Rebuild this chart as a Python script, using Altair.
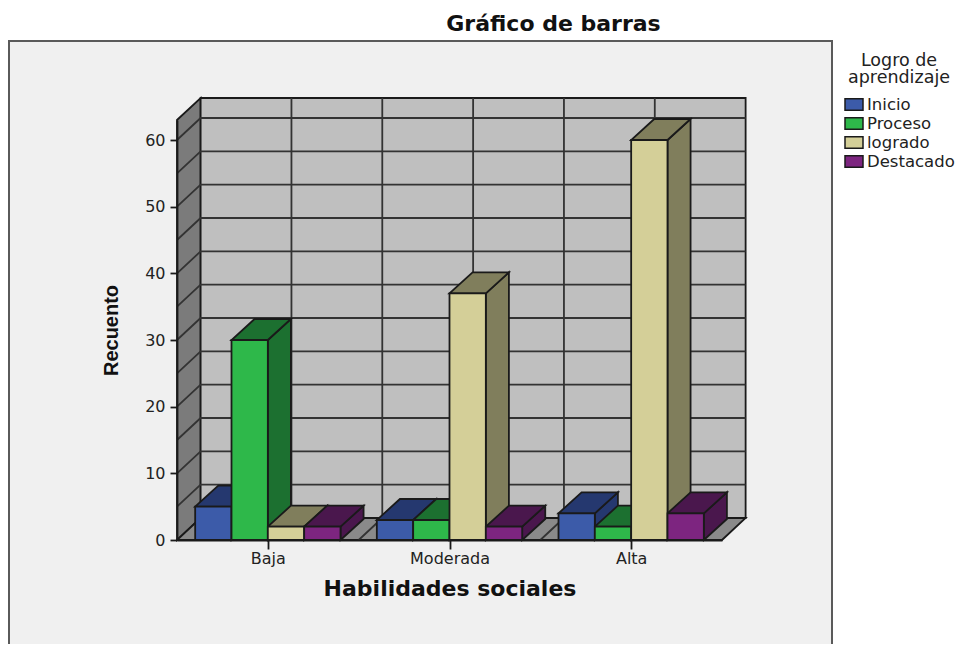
import altair as alt
import pandas as pd

categories = ["Baja", "Moderada", "Alta"]
series = ["Inicio", "Proceso", "logrado", "Destacado"]
values = {
    "Inicio": [5, 3, 4],
    "Proceso": [30, 3, 2],
    "logrado": [2, 37, 60],
    "Destacado": [2, 2, 4],
}
front_colors = ["#3c5ba9", "#2eb84a", "#d4cf98", "#7d2580"]
shade_side = ["#25386f", "#1c7030", "#807e5c", "#4a174d"]
grid_values = list(range(5, 65, 5))
floor_ticks = [0, 0.5, 1, 1.5, 2]

BAR_W = 0.2
BAR_DX, BAR_DY = 0.127, 3.15
WALL_DX, WALL_DY = 0.13, 3.3
XMIN, XMAX, YMAX = -0.5, 2.5, 63

INK = "#1a1a1a"
LW = 1.8
FONT = "DejaVu Sans"

sx = alt.Scale(domain=[XMIN, XMAX], nice=False, zero=False)
sy = alt.Scale(domain=[0, YMAX], nice=False, zero=False)

label_expr = "datum.value == 0 ? 'Baja' : datum.value == 1 ? 'Moderada' : 'Alta'"
x_axis = alt.Axis(
    values=[0, 1, 2], labelExpr=label_expr, title="Habilidades sociales",
    grid=False, domainColor=INK, domainWidth=LW, tickColor=INK, tickWidth=LW,
    tickSize=9, labelPadding=1, labelFontSize=16, labelFont=FONT, labelColor="#222222",
    titleFont=FONT, titleFontSize=22, titleFontWeight="bold", titleColor="#111111",
    titlePadding=12, zindex=1)
y_axis = alt.Axis(
    values=[0, 10, 20, 30, 40, 50, 60], title="Recuento",
    grid=False, domainColor=INK, domainWidth=LW, tickColor=INK, tickWidth=LW,
    tickSize=7, labelPadding=5, labelFontSize=16, labelFont=FONT, labelColor="#222222",
    titleFont="Liberation Sans", titleFontSize=20, titleFontWeight="bold",
    titleColor="#111111", titlePadding=23, zindex=1)

X = lambda f: alt.X(f, type="quantitative", scale=sx, axis=x_axis)
Y = lambda f: alt.Y(f, type="quantitative", scale=sy, stack=None, axis=y_axis)

# ---- faces of the bars
front, side, top = [], [], []
for ci, cat in enumerate(categories):
    for si, s in enumerate(series):
        v = values[s][ci]
        x0 = ci + (si - 2) * BAR_W
        x1 = x0 + BAR_W
        key = f"{cat}-{s}"
        front.append(dict(id=key, serie=s, x0=x0, x1=x1, v=v))
        side += [
            dict(id=key, shade=shade_side[si], x=x1, y0=0, y1=v),
            dict(id=key, shade=shade_side[si], x=x1 + BAR_DX, y0=BAR_DY, y1=v + BAR_DY),
        ]
        top += [
            dict(id=key, shade=shade_side[si], y=v, x0=x0, x1=x1),
            dict(id=key, shade=shade_side[si], y=v + BAR_DY, x0=x0 + BAR_DX, x1=x1 + BAR_DX),
        ]
front, side, top = pd.DataFrame(front), pd.DataFrame(side), pd.DataFrame(top)

# ---- walls
left_wall = pd.DataFrame([
    dict(x=XMIN, y0=0, y1=YMAX),
    dict(x=XMIN + WALL_DX, y0=WALL_DY, y1=YMAX + WALL_DY),
])
back_wall = pd.DataFrame([dict(x0=XMIN + WALL_DX, x1=XMAX + WALL_DX, y0=WALL_DY, y1=YMAX + WALL_DY)])
floor = pd.DataFrame([
    dict(y=0, x0=XMIN, x1=XMAX),
    dict(y=WALL_DY, x0=XMIN + WALL_DX, x1=XMAX + WALL_DX),
])

# ---- grid lines
grid = []
for g in grid_values:
    grid += [
        dict(id=f"h{g}", o=0, x=XMIN, y=g),
        dict(id=f"h{g}", o=1, x=XMIN + WALL_DX, y=g + WALL_DY),
        dict(id=f"h{g}", o=2, x=XMAX + WALL_DX, y=g + WALL_DY),
    ]
for t in floor_ticks:
    grid += [
        dict(id=f"v{t}", o=0, x=t, y=0),
        dict(id=f"v{t}", o=1, x=t + WALL_DX, y=WALL_DY),
        dict(id=f"v{t}", o=2, x=t + WALL_DX, y=YMAX + WALL_DY),
    ]
grid = pd.DataFrame(grid)

stroke = dict(stroke=INK, strokeWidth=LW)

panel = alt.Chart(pd.DataFrame({"a": [0]})).mark_rect(
    fill="#f0f0f0", stroke="#5a5a5a", strokeWidth=2
).encode(x=alt.value(-168), x2=alt.value(655), y=alt.value(-79), y2=alt.value(535))

wall_l = alt.Chart(left_wall).mark_area(color="#7b7b7b", **stroke).encode(
    x=X("x"), y=Y("y0"), y2="y1")
wall_b = alt.Chart(back_wall).mark_rect(color="#bfbfbf", **stroke).encode(
    x=X("x0"), x2="x1", y=Y("y0"), y2="y1")
wall_f = alt.Chart(floor).mark_area(color="#8a8a8a", orient="horizontal", **stroke).encode(
    y=Y("y"), x=X("x0"), x2="x1")
grid_l = alt.Chart(grid).mark_line(stroke="#333333", strokeWidth=LW).encode(
    x=X("x"), y=Y("y"), detail="id:N", order="o:Q")

sides = alt.Chart(side).mark_area(**stroke).encode(
    x=X("x"), y=Y("y0"), y2="y1", detail="id:N",
    fill=alt.Fill("shade:N", scale=None))
tops = alt.Chart(top).mark_area(orient="horizontal", **stroke).encode(
    y=Y("y"), x=X("x0"), x2="x1", detail="id:N",
    fill=alt.Fill("shade:N", scale=None))

fronts = alt.Chart(front).mark_bar(**stroke).encode(
    x=X("x0"),
    x2="x1",
    y=Y("v"),
    y2=alt.Y2(datum=0),
    color=alt.Color("serie:N", scale=alt.Scale(domain=series, range=front_colors), legend=alt.Legend(
        title=["Logro de", "aprendizaje"], orient="none", legendX=667, legendY=-68,
        titleFont=FONT, titleFontSize=17.5, titleFontWeight="normal", titleColor="#222222",
        titleAlign="center", titleAnchor="middle", titleLineHeight=17, titlePadding=8,
        labelFont=FONT, labelFontSize=16.5, labelColor="#222222", labelOffset=3,
        symbolType="M-1,-0.65H1V0.65H-1Z", symbolSize=324,
        symbolStrokeColor=INK, symbolStrokeWidth=1.5, symbolOpacity=1, rowPadding=-1,
    )),
)

chart = alt.layer(panel, wall_l, wall_b, wall_f, grid_l, sides, tops, fronts).properties(
    width=545, height=420,
    padding={"left": 169, "top": 112, "right": 233, "bottom": 104},
    autosize=alt.AutoSizeParams(type="none"),
    background="white",
    title=alt.TitleParams("Gráfico de barras", font=FONT, fontSize=22, fontWeight="bold",
                          color="#111111", anchor="middle", dx=104, offset=4),
).configure_view(stroke=None)

chart.save("out.html", embed_options={"renderer": "svg", "actions": False})
